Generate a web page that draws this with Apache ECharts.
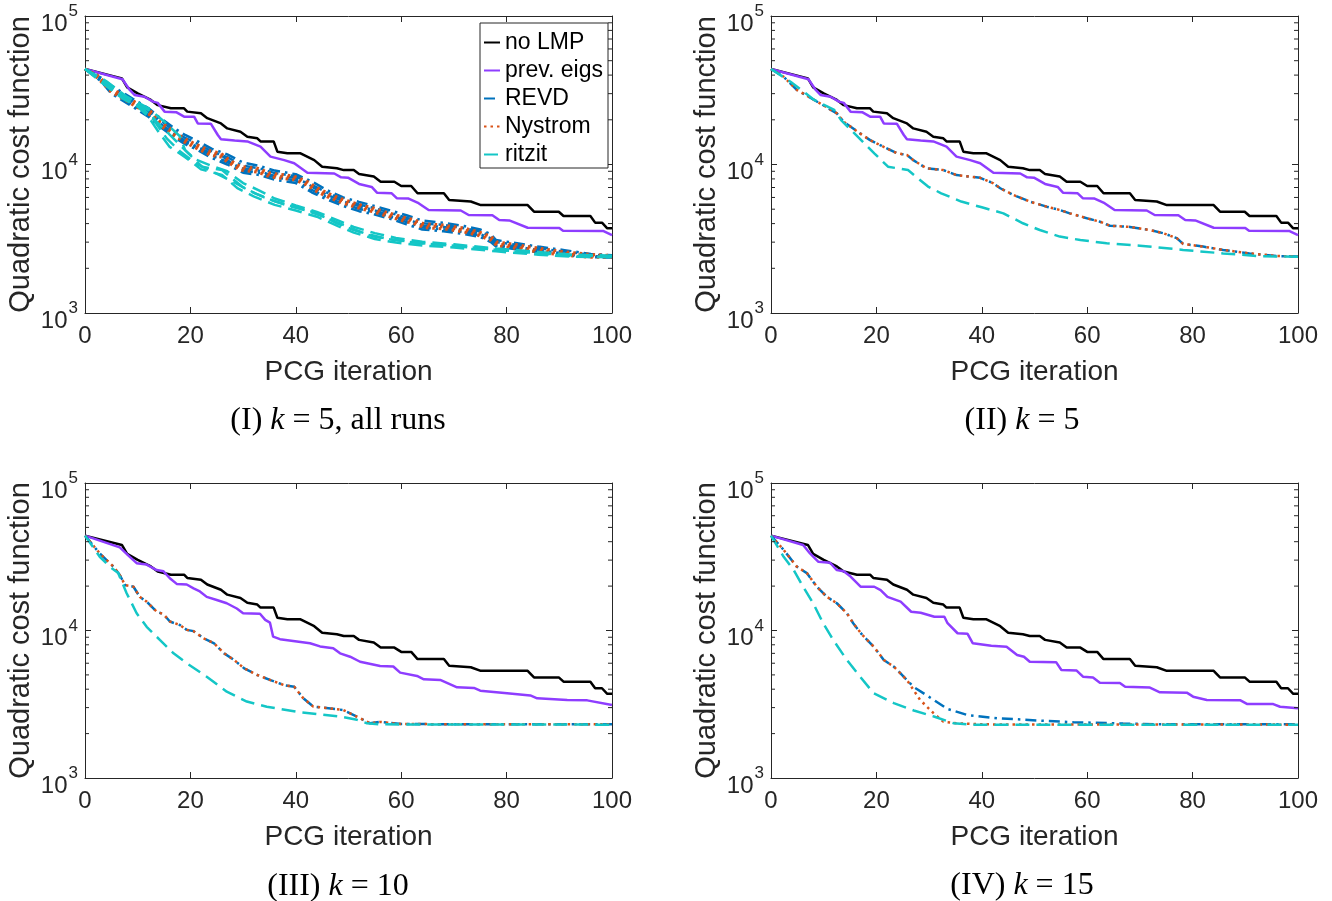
<!DOCTYPE html>
<html>
<head>
<meta charset="utf-8">
<script src="https://cdn.jsdelivr.net/npm/echarts@6/dist/echarts.min.js"></script>
<style>
html,body{margin:0;padding:0;background:#fff;}
#chart{width:1332px;height:901px;}
</style>
</head>
<body>
<div id="chart"></div>
<script>
// ---------------- data (iteration, quadratic cost) ----------------
const xTickValues = [0, 20, 40, 60, 80, 100];
const yTickValues = [1000, 10000, 100000];
const minorTickValues = [2000,3000,4000,5000,6000,7000,8000,9000,20000,30000,40000,50000,60000,70000,80000,90000];
const panelCaptions = ['(I) {i|k} = 5, all runs', '(II) {i|k} = 5', '(III) {i|k} = 10', '(IV) {i|k} = 15'];
const methodNames = ['no LMP', 'prev. eigs', 'REVD', 'Nystrom', 'ritzit'];

const noLmp = [[0,44000],[7,38000],[8,33100],[10,30100],[12.5,27200],[13.8,25100],[16.3,23900],[18.8,23900],[19.4,22700],[22,22100],[23.2,20500],[25.8,18900],[27,17500],[29.5,16600],[30.8,15400],[32.7,15000],[33.3,14300],[35.8,14300],[36.5,12200],[38.4,11900],[40.9,11900],[43.5,10700],[45,9660],[47.8,9430],[49.1,9170],[51,9170],[52,8640],[54.8,8290],[56.1,7660],[58.7,7660],[60,7160],[61.9,7160],[63.1,6400],[68.1,6400],[69.1,5770],[73.2,5630],[75.1,5330],[84,5330],[85.2,4810],[89.9,4810],[90.8,4500],[95.9,4500],[96.8,4060],[98.1,4060],[99.1,3720],[100,3720]];

// k = 5
const prevEigsK5 = [[0,44000],[7.1,37500],[8.4,32100],[9.4,29400],[11.3,28600],[12.9,26500],[13.8,26000],[15.1,22700],[17.3,22500],[18.8,21000],[20.7,21000],[21.4,18900],[23.9,18800],[25.2,15800],[25.8,14800],[28.4,14500],[30.8,14300],[33.3,13200],[35.2,11300],[37.8,10700],[39.7,10200],[42.2,8810],[47.3,8700],[48.6,8200],[49.9,8150],[52,7400],[54.4,7060],[55.4,6460],[58.2,6400],[59.2,5920],[61.4,5900],[63.3,5490],[65.2,4940],[71.3,4900],[72.8,4570],[77.3,4550],[78.6,4230],[80.5,4200],[84,3750],[90,3730],[90.7,3580],[98.4,3560],[100,3350]];
const revdK5 = [[0,44000],[2.4,39000],[4.9,31800],[9.3,25800],[12.5,22100],[13.8,19400],[16.9,16200],[18.8,14600],[20.7,13500],[23.9,11900],[25.8,11600],[27,10700],[29.5,9430],[32.7,9170],[35.2,8490],[39.7,8130],[42.2,7470],[43.5,6920],[46,6240],[49.1,5630],[52.3,5200],[54.8,4940],[56.7,4690],[60.5,4290],[62.4,4120],[64.3,3870],[68.1,3800],[71.9,3620],[74.5,3440],[77,3190],[78.2,2920],[82,2800],[85.8,2660],[90.8,2520],[95.9,2420],[100,2400]];
const nystromK5 = [[0,44000],[2.4,39000],[4.9,31800],[9.3,25800],[12.5,22100],[13.8,19400],[16.9,16200],[18.8,14600],[20.7,13500],[23.9,11900],[25.8,11600],[27,10700],[29.5,9430],[32.7,9170],[35.2,8490],[39.7,8130],[42.2,7470],[43.5,6920],[46,6240],[49.1,5630],[52.3,5200],[54.8,4940],[56.7,4690],[60.5,4290],[62.4,4120],[64.3,3870],[68.1,3800],[71.9,3620],[74.5,3440],[77,3190],[78.2,2920],[82,2800],[85.8,2660],[90.8,2520],[95.9,2420],[100,2400]];
const ritzitK5 = [[0,44000],[3.7,36100],[8.2,27200],[12,23300],[13.3,19900],[17.1,14600],[19.6,11900],[22.2,9660],[26,9170],[29.8,7100],[32.3,6400],[36.1,5630],[40,5150],[44.1,4690],[47.8,4020],[51,3620],[54.8,3270],[58.7,3100],[63.7,2950],[70,2840],[78.2,2660],[85.8,2520],[92.2,2420],[100,2390]];

// k = 5, extra runs (edges and inner traces of the bands in panel I)
const revdRunsK5Hi = [[0,44000],[3,38500],[5,34000],[9,27800],[12,24000],[14,21000],[17,17500],[19,15800],[21,14600],[24,12800],[27,11700],[30,10300],[33,9800],[36,9100],[40,8600],[43,7700],[46,6700],[49,6000],[52,5600],[55,5250],[58,4900],[61,4550],[64,4200],[68,4050],[72,3850],[75,3650],[77,3400],[78,3100],[82,2950],[86,2800],[91,2650],[96,2500],[100,2450]];
const revdRunsK5MidHi = [[0,44000],[3,38000],[5,33000],[9,27000],[12,23200],[14,20200],[17,16800],[19,15100],[21,14000],[24,12300],[27,11200],[30,9800],[33,9450],[36,8750],[40,8350],[43,7300],[46,6450],[49,5800],[52,5380],[55,5080],[58,4720],[61,4380],[64,4020],[68,3920],[72,3720],[75,3530],[77,3290],[78,3000],[82,2880],[86,2730],[91,2590],[96,2470],[100,2430]];
const revdRunsK5MidLo = [[0,44000],[3,37000],[5,31000],[9,25000],[12,21600],[14,18800],[17,15700],[19,14100],[21,13100],[24,11500],[27,10400],[30,9100],[33,8800],[36,8200],[40,7800],[43,6750],[46,6000],[49,5430],[52,5030],[55,4760],[58,4450],[61,4100],[64,3760],[68,3660],[72,3500],[75,3330],[77,3080],[78,2850],[82,2740],[86,2610],[91,2480],[96,2400],[100,2380]];
const revdRunsK5Lo = [[0,44000],[3,36500],[5,30000],[9,24500],[12,21000],[14,18200],[17,15200],[19,13700],[21,12700],[24,11100],[27,10000],[30,8800],[33,8500],[36,7900],[40,7500],[43,6500],[46,5800],[49,5250],[52,4850],[55,4600],[58,4300],[61,3950],[64,3650],[68,3550],[72,3400],[75,3250],[77,3000],[78,2800],[82,2680],[86,2560],[91,2450],[96,2380],[100,2360]];
const nystromRunsK5Hi = [[0,44000],[2.4,39800],[4.9,32600],[9.3,26600],[12.5,22800],[13.8,20000],[16.9,16700],[18.8,15000],[20.7,13900],[23.9,12300],[25.8,11900],[27,11000],[29.5,9700],[32.7,9450],[35.2,8750],[39.7,8350],[42.2,7700],[43.5,7150],[46,6430],[49.1,5800],[52.3,5350],[54.8,5090],[56.7,4830],[60.5,4420],[62.4,4250],[64.3,3990],[68.1,3910],[71.9,3730],[74.5,3540],[77,3290],[78.2,3010],[82,2880],[85.8,2740],[90.8,2590],[95.9,2480],[100,2440]];
const nystromRunsK5Lo = [[0,44000],[2.4,38200],[4.9,31000],[9.3,25000],[12.5,21400],[13.8,18800],[16.9,15700],[18.8,14200],[20.7,13100],[23.9,11500],[25.8,11250],[27,10400],[29.5,9150],[32.7,8900],[35.2,8230],[39.7,7890],[42.2,7250],[43.5,6710],[46,6050],[49.1,5460],[52.3,5040],[54.8,4790],[56.7,4550],[60.5,4160],[62.4,4000],[64.3,3750],[68.1,3690],[71.9,3510],[74.5,3340],[77,3090],[78.2,2830],[82,2720],[85.8,2580],[90.8,2450],[95.9,2370],[100,2380]];
const ritzitRunsK5Hi = [[0,44000],[4,36500],[8,28500],[12,24000],[15,19500],[18,15500],[19,12500],[21,10800],[24,9800],[27,9000],[30,7500],[33,6700],[36,5900],[40,5300],[44,4800],[48,4200],[51,3800],[55,3450],[59,3200],[64,3020],[70,2900],[78,2720],[86,2580],[92,2480],[100,2430]];
const ritzitRunsK5Mid = [[0,44000],[3.5,36200],[7.5,27600],[11,23800],[13,20000],[15.5,15000],[18,12300],[21,10200],[24,9000],[28,7700],[31,6700],[34,6000],[38,5350],[42,4900],[46,4350],[49.5,3850],[53,3450],[57,3180],[62,3000],[68,2870],[75,2720],[83,2580],[90,2470],[100,2400]];
const ritzitRunsK5Lo = [[0,44000],[3,36000],[7,28000],[10,24500],[12,21000],[14,16500],[16,13200],[19,11200],[22,9300],[26,8500],[29,6900],[32,6100],[36,5350],[40,4900],[44,4450],[48,3850],[51,3480],[55,3150],[59,2980],[64,2850],[70,2760],[78,2600],[86,2470],[92,2400],[100,2370]];

// k = 10
const prevEigsK10 = [[0,44000],[6.6,36600],[8.5,31600],[9.8,28600],[11.7,28000],[13.6,25700],[14.9,25200],[16.1,22600],[17.4,20700],[19.3,20500],[20.6,19300],[21.8,18400],[23.1,16900],[25,16100],[26.9,15300],[28.8,14100],[30,13100],[33.2,13000],[34.2,11800],[35.1,11300],[35.7,9080],[37,8730],[39.5,8500],[42.7,8190],[44.6,7800],[47.1,7590],[48.4,7000],[50.3,6640],[52.2,6140],[56,5740],[58.5,5700],[59.8,5180],[63,4920],[64.3,4670],[67.4,4620],[70.6,4120],[73.8,4080],[75,3910],[80.1,3760],[84.5,3630],[85.8,3470],[91.5,3380],[95.3,3360],[100,3130]];
const revdK10 = [[0,44000],[2.8,33300],[5.4,27100],[6.6,23800],[7.6,20300],[9.2,19800],[10.4,16900],[11.7,15700],[13.6,13400],[14.9,12900],[16.1,11500],[18,10900],[19.3,10100],[20.6,9900],[22.5,8850],[24.5,8190],[26.4,7000],[28.3,6310],[30.2,5540],[32.7,4990],[35.2,4610],[37.8,4260],[39.7,4150],[41.4,3480],[43.3,3050],[45.2,3000],[49,2890],[52.2,2540],[54.1,2350],[56,2400],[60,2320],[100,2310]];
const nystromK10 = [[0,44000],[2.8,33300],[5.4,27100],[6.6,23800],[7.6,20300],[9.2,19800],[10.4,16900],[11.7,15700],[13.6,13400],[14.9,12900],[16.1,11500],[18,10900],[19.3,10100],[20.6,9900],[22.5,8850],[24.5,8190],[26.4,7000],[28.3,6310],[30.2,5540],[32.7,4990],[35.2,4610],[37.8,4260],[39.7,4150],[41.4,3480],[43.3,3050],[45.2,3000],[49,2890],[52.2,2540],[54.1,2350],[56,2400],[60,2320],[100,2310]];
const ritzitK10 = [[0,44000],[2.8,31600],[4.7,27100],[6.3,24500],[7.9,17900],[9.8,13100],[11.7,10600],[14.2,8630],[16.8,7000],[19.3,6000],[23.1,4860],[26.9,3850],[30.7,3300],[34.5,3040],[40.8,2790],[44.6,2700],[48.4,2610],[51.6,2480],[53.5,2350],[56,2310],[100,2300]];

// k = 15
const prevEigsK15 = [[0,44000],[6.1,38000],[7.4,33300],[9,29200],[11.2,28800],[12.5,25700],[13.8,25200],[15.1,23200],[17,19800],[19.6,19800],[20.8,18800],[22.1,16900],[24.6,15700],[26.6,13400],[28.4,13200],[31,12400],[32.9,12400],[33.5,11200],[35.4,9580],[37.3,9500],[38.3,8190],[41.8,7870],[44.7,7770],[46.7,6830],[48,6640],[49.1,6140],[54.1,6100],[55.1,5400],[58,5350],[59.2,4860],[61.1,4800],[62.4,4430],[66.2,4400],[67.2,4150],[71.9,4100],[73.8,3810],[78.9,3790],[80.1,3560],[82.7,3380],[89,3370],[90.3,3180],[95.3,3170],[96.6,3040],[100,2970]];
const revdK15 = [[0,44000],[2.4,35200],[4.9,27100],[6.8,24500],[8.7,19800],[10.6,16900],[12.5,15300],[14.4,13100],[15.6,11200],[17.3,9340],[19.5,7770],[21.4,6310],[23.3,5690],[24.4,5200],[27,4160],[30.9,3380],[33.5,2940],[37.3,2670],[43,2540],[46.7,2500],[51.1,2450],[57.4,2390],[66.8,2340],[75,2310],[100,2310]];
const nystromK15 = [[0,44000],[2.4,35200],[4.9,27100],[6.8,24500],[8.7,19800],[10.6,16900],[12.5,15300],[14.4,13100],[15.6,11200],[17.3,9340],[19.5,7770],[21.4,6310],[23.3,5690],[25.8,4610],[28.3,3380],[30.8,2760],[32.7,2410],[35.2,2350],[40,2310],[100,2300]];
const ritzitK15 = [[0,44000],[2.4,31600],[4.3,25700],[6.1,19800],[8,15300],[9.9,11200],[11.8,8630],[14.4,6310],[16.9,4860],[19.5,3750],[23.3,3220],[27.1,2870],[30.9,2610],[34.7,2350],[38,2300],[100,2300]];

// ---------------- styling ----------------
const C = { black:'#000000', purple:'#8E3DFF', blue:'#0072BD', orange:'#D95319', cyan:'#14C6C6' };
const AX = '#262626';
const SANS = '"Liberation Sans", Arial, Helvetica, sans-serif';
const SERIF = '"Liberation Serif", "Times New Roman", serif';
const DASH = [14, 7], DOT = [2.5, 4], DASHDOT = [11, 5, 2.5, 5];
const LW = 2.5;

const grids = [
  { left: 85,  top: 16,  width: 527, height: 297 },
  { left: 771, top: 16,  width: 527, height: 297 },
  { left: 85,  top: 483, width: 527, height: 295 },
  { left: 771, top: 483, width: 527, height: 295 }
];

const xAxes = [], yAxes = [];
grids.forEach((g, i) => {
  xAxes.push({
    gridIndex: i, type: 'value', min: 0, max: 100, interval: 20, position: 'bottom',
    axisLine: { onZero: false, lineStyle: { color: AX, width: 1 } },
    axisTick: { inside: true, length: 6, lineStyle: { color: AX } },
    axisLabel: { fontSize: 24, color: AX, margin: 11, fontFamily: SANS },
    splitLine: { show: false },
    name: 'PCG iteration', nameLocation: 'middle', nameGap: 45,
    nameTextStyle: { fontSize: 28, color: AX, fontFamily: SANS }
  });
  xAxes.push({
    gridIndex: i, type: 'value', min: 0, max: 100, interval: 20, position: 'top',
    axisLine: { onZero: false, lineStyle: { color: AX, width: 1 } },
    axisTick: { inside: true, length: 6, lineStyle: { color: AX } },
    axisLabel: { show: false }, splitLine: { show: false }
  });
  yAxes.push({
    gridIndex: i, type: 'log', logBase: 10, min: 1000, max: 100000, position: 'left',
    axisLine: { onZero: false, lineStyle: { color: AX, width: 1 } },
    axisTick: { inside: true, length: 6, lineStyle: { color: AX } },
    splitLine: { show: false },
    axisLabel: {
      margin: 7, color: AX, fontFamily: SANS,
      formatter: v => '{b|10}{s|' + Math.round(Math.log10(v)) + '}',
      rich: {
        b: { fontSize: 24, color: AX, fontFamily: SANS, padding: [16, 0, 0, 0] },
        s: { fontSize: 17, color: AX, fontFamily: SANS, verticalAlign: 'top', padding: [7, 0, 0, 1] }
      }
    },
    name: 'Quadratic cost function', nameLocation: 'middle', nameGap: 50,
    nameTextStyle: { fontSize: 29, color: AX, fontFamily: SANS }
  });
  yAxes.push({
    gridIndex: i, type: 'log', logBase: 10, min: 1000, max: 100000, position: 'right',
    axisLine: { onZero: false, lineStyle: { color: AX, width: 1 } },
    axisTick: { inside: true, length: 6, lineStyle: { color: AX } },
    axisLabel: { show: false }, splitLine: { show: false }
  });
});

function line(name, data, gi, color, dash, width) {
  return {
    type: 'line', name: name, data: data,
    xAxisIndex: gi * 2, yAxisIndex: gi * 2,
    symbol: 'none', showSymbol: false, smooth: false, z: 2,
    lineStyle: { color: color, width: width || LW, type: dash },
    itemStyle: { color: color },
    emphasis: { disabled: true }
  };
}

function minorTicks(gi) {
  return {
    type: 'custom', xAxisIndex: gi * 2, yAxisIndex: gi * 2, silent: true, clip: false, z: 5,
    data: minorTickValues.map(v => [0, v]),
    renderItem: function (params, api) {
      const v = api.value(1);
      const pl = api.coord([0, v]);
      const pr = api.coord([100, v]);
      return { type: 'group', children: [
        { type: 'line', shape: { x1: pl[0], y1: pl[1], x2: pl[0] + 4, y2: pl[1] }, style: { stroke: AX, lineWidth: 1 } },
        { type: 'line', shape: { x1: pr[0] - 4, y1: pr[1], x2: pr[0], y2: pr[1] }, style: { stroke: AX, lineWidth: 1 } }
      ]};
    }
  };
}

const series = [];
// Panel I : k = 5, all runs
series.push(line(methodNames[0], noLmp, 0, C.black, 'solid'));
series.push(line(methodNames[1], prevEigsK5, 0, C.purple, 'solid'));
[revdRunsK5Hi, revdRunsK5MidHi, revdK5, revdRunsK5MidLo, revdRunsK5Lo].forEach(d => series.push(line(methodNames[2], d, 0, C.blue, DASHDOT)));
[nystromRunsK5Hi, nystromK5, nystromRunsK5Lo].forEach(d => series.push(line(methodNames[3], d, 0, C.orange, DOT, 3)));
[ritzitRunsK5Hi, ritzitK5, ritzitRunsK5Mid, ritzitRunsK5Lo].forEach(d => series.push(line(methodNames[4], d, 0, C.cyan, DASH)));
// Panels II-IV
const panelSets = [
  [1, prevEigsK5, revdK5, nystromK5, ritzitK5],
  [2, prevEigsK10, revdK10, nystromK10, ritzitK10],
  [3, prevEigsK15, revdK15, nystromK15, ritzitK15]
];
panelSets.forEach(([gi, pe, rv, ny, rz]) => {
  series.push(line(methodNames[0], noLmp, gi, C.black, 'solid'));
  series.push(line(methodNames[1], pe, gi, C.purple, 'solid'));
  series.push(line(methodNames[2], rv, gi, C.blue, DASHDOT));
  series.push(line(methodNames[3], ny, gi, C.orange, DOT));
  series.push(line(methodNames[4], rz, gi, C.cyan, DASH));
});
[0, 1, 2, 3].forEach(gi => series.push(minorTicks(gi)));

const captionPos = [[338, 421], [1022, 421], [338, 887], [1022, 886]];
const graphics = panelCaptions.map((t, i) => ({
  type: 'text', x: captionPos[i][0], y: captionPos[i][1], silent: true,
  style: {
    text: t, fontSize: 32, fontFamily: SERIF, fill: '#000',
    align: 'center', verticalAlign: 'middle',
    rich: { i: { fontSize: 32, fontFamily: SERIF, fontStyle: 'italic', fill: '#000' } }
  }
}));

const chart = echarts.init(document.getElementById('chart'), null, { renderer: 'canvas' });
chart.setOption({
  animation: false,
  backgroundColor: '#ffffff',
  grid: grids,
  xAxis: xAxes,
  yAxis: yAxes,
  legend: {
    data: methodNames, orient: 'vertical', left: 480, top: 23,
    itemWidth: 16, itemHeight: 10, itemGap: 5,
    padding: [8, 5, 2, 3],
    borderColor: AX, borderWidth: 1, backgroundColor: '#ffffff',
    itemStyle: { opacity: 0 },
    textStyle: { fontSize: 23, color: '#000', fontFamily: SANS },
    selectedMode: false
  },
  series: series,
  graphic: graphics
});
</script>
</body>
</html>
